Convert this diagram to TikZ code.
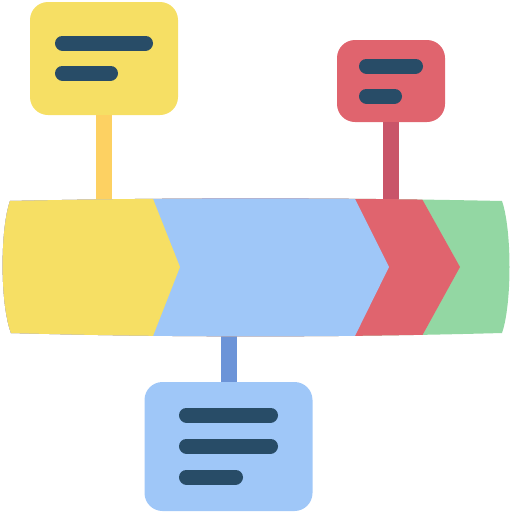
\documentclass[tikz,border=0pt]{standalone}
\usepackage{tikz}
\usepackage{xcolor}
\usetikzlibrary{positioning}

\definecolor{tlyellow}{HTML}{F6DF64}
\definecolor{tlblue}{HTML}{9FC7F8}
\definecolor{tlred}{HTML}{E0646E}
\definecolor{tlgreen}{HTML}{93D7A3}
\definecolor{postyellow}{HTML}{FDD162}
\definecolor{postblue}{HTML}{6C94D8}
\definecolor{postred}{HTML}{C95569}
\definecolor{textline}{HTML}{284C67}

\tikzset{
  card/.style={rounded corners=18pt, inner sep=0pt, outer sep=0pt},
  post/.style={line width=16pt},
  bar/.style={line width=15pt, line cap=round, draw=textline}
}

\begin{document}
\begin{tikzpicture}[x=1pt, y=-1pt]
            % Línea de tiempo con tres etiquetas
            \useasboundingbox (0,0) rectangle (512,512);
            \node[card, fill=tlyellow, minimum width=148pt, minimum height=113pt] (yellowcard) at (104,58.5) {};
            \node[card, fill=tlred, minimum width=108pt, minimum height=82pt] (redcard) at (391,81) {};
            \node[card, fill=tlblue, minimum width=168pt, minimum height=129pt] (bluecard) at (228.5,446.5) {};
            \coordinate (yellowpin) at (104,205);
            \coordinate (redpin) at (391,205);
            \coordinate (bluepin) at (228.5,330);
            \draw[post, draw=postyellow] (yellowcard.south) -- (yellowpin);
            \draw[post, draw=postred] (redcard.south) -- (redpin);
            \draw[post, draw=postblue] (bluecard.north) -- (bluepin);
            \begin{scope}
                \clip (10,201) .. controls (170,197.5) and (340,197.5) .. (502,201)
                      .. controls (512,230) and (512,304) .. (502,333)
                      .. controls (340,337.5) and (170,337.5) .. (11,333)
                      .. controls (0,304) and (0,230) .. cycle;
                \fill[tlgreen] (0,190) rectangle (512,345);
                \fill[tlred] (0,190) -- (417,190) -- (460,267) -- (417,345) -- (0,345) -- cycle;
                \fill[tlblue] (0,190) -- (350.5,190) -- (389,267) -- (350.5,345) -- (0,345) -- cycle;
                \fill[tlyellow] (0,190) -- (149.5,190) -- (180,267) -- (149.5,345) -- (0,345) -- cycle;
            \end{scope}
            \foreach \y/\x in {43/145.5, 73/110.5} {
                \draw[bar] (62.5,\y) -- (\x,\y);
            }
            \foreach \y/\x in {66/415.5, 96/394.5} {
                \draw[bar] (366.5,\y) -- (\x,\y);
            }
            \foreach \y/\x in {415/270.5, 446/270.5, 477/235.5} {
                \draw[bar] (186.5,\y) -- (\x,\y);
            }
        \end{tikzpicture}
\end{document}
